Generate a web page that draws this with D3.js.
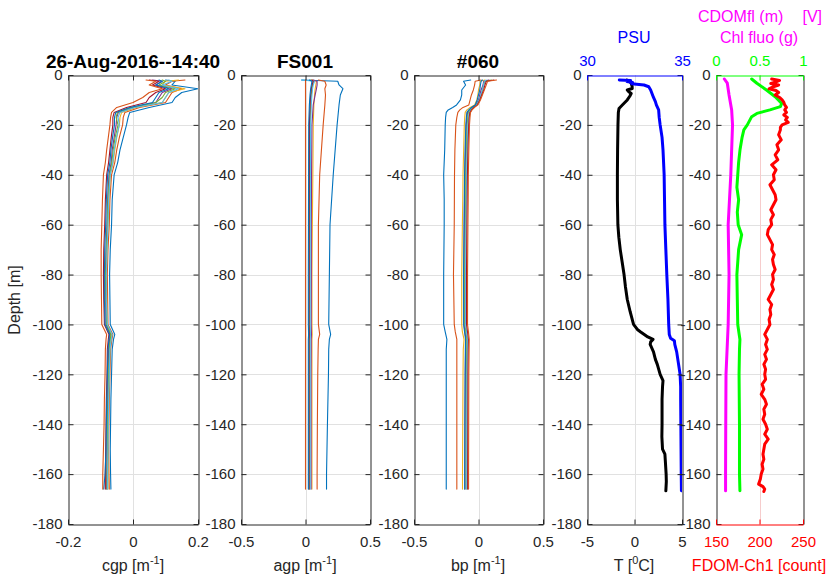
<!DOCTYPE html>
<html>
<head>
<meta charset="utf-8">
<script src="https://cdn.jsdelivr.net/npm/d3@7"></script>
<style>
  body { margin: 0; background: #fff; }
  svg text { font-family: "Liberation Sans", Arial, Helvetica, sans-serif; }
</style>
</head>
<body>
<svg id="chart" width="832" height="586"></svg>
<script>
// ---------- data ----------
const depthTicks = [0, -20, -40, -60, -80, -100, -120, -140, -160, -180];

const lineColors = ["#0072BD", "#D95319", "#EDB120", "#7E2F8E", "#77AC30", "#4DBEEE", "#A2142F", "#0072BD", "#D95319"];

// cgp profiles [1/m]
const cgpDepth = [-2, -2.5, -4, -5.5, -7, -9, -11, -13, -15, -17, -20, -25, -30, -35, -40, -50, -60, -70, -80, -90, -100, -104, -106, -110, -120, -130, -140, -150, -160, -166];
const cgpValues = [
  [0.10, 0.13, 0.12, 0.20, 0.15, 0.13, 0.12, 0.05, -0.01, -0.015, -0.02, -0.03, -0.04, -0.047, -0.058, -0.064, -0.066, -0.070, -0.072, -0.071, -0.070, -0.056, -0.060, -0.064, -0.066, -0.068, -0.069, -0.070, -0.069, -0.068],
  [0.16, 0.12, 0.10, 0.15, 0.12, 0.11, 0.10, 0.02, -0.025, -0.03, -0.032, -0.042, -0.05, -0.056, -0.066, -0.071, -0.073, -0.077, -0.079, -0.078, -0.077, -0.062, -0.065, -0.069, -0.071, -0.073, -0.074, -0.075, -0.074, -0.073],
  [0.14, 0.10, 0.09, 0.16, 0.11, 0.10, 0.09, 0.01, -0.035, -0.04, -0.042, -0.05, -0.056, -0.061, -0.07, -0.074, -0.077, -0.080, -0.082, -0.081, -0.080, -0.066, -0.068, -0.071, -0.073, -0.075, -0.076, -0.077, -0.077, -0.077],
  [0.06, 0.09, 0.07, 0.12, 0.09, 0.08, 0.07, 0.0, -0.045, -0.05, -0.052, -0.058, -0.064, -0.067, -0.074, -0.078, -0.080, -0.083, -0.085, -0.084, -0.083, -0.070, -0.072, -0.075, -0.077, -0.078, -0.079, -0.080, -0.081, -0.081],
  [0.09, 0.10, 0.08, 0.13, 0.10, 0.09, 0.07, -0.005, -0.048, -0.052, -0.046, -0.055, -0.061, -0.065, -0.072, -0.077, -0.079, -0.082, -0.084, -0.083, -0.081, -0.068, -0.070, -0.073, -0.075, -0.077, -0.078, -0.079, -0.080, -0.080],
  [0.11, 0.12, 0.09, 0.14, 0.11, 0.10, 0.09, 0.005, -0.04, -0.046, -0.042, -0.051, -0.058, -0.062, -0.070, -0.075, -0.077, -0.080, -0.082, -0.082, -0.079, -0.064, -0.067, -0.071, -0.073, -0.075, -0.076, -0.077, -0.078, -0.078],
  [0.05, 0.08, 0.06, 0.10, 0.07, 0.05, 0.04, -0.02, -0.058, -0.062, -0.062, -0.067, -0.071, -0.075, -0.081, -0.085, -0.087, -0.090, -0.091, -0.090, -0.088, -0.074, -0.076, -0.079, -0.080, -0.082, -0.083, -0.084, -0.085, -0.085],
  [0.08, 0.09, 0.07, 0.11, 0.08, 0.07, 0.06, -0.01, -0.053, -0.057, -0.057, -0.063, -0.068, -0.071, -0.078, -0.082, -0.084, -0.087, -0.088, -0.088, -0.086, -0.072, -0.074, -0.077, -0.079, -0.081, -0.082, -0.083, -0.086, -0.090],
  [0.04, 0.07, 0.05, 0.09, 0.05, 0.03, 0.0, -0.05, -0.066, -0.069, -0.071, -0.076, -0.081, -0.085, -0.091, -0.094, -0.096, -0.098, -0.098, -0.097, -0.096, -0.081, -0.083, -0.085, -0.086, -0.088, -0.089, -0.091, -0.093, -0.093]
];

// agp profiles [1/m]
const agpDepth = [-2, -2.5, -4, -5.5, -8, -12, -20, -40, -60, -80, -100, -104, -106, -110, -120, -140, -160, -166];
const agpValues = [
  [-0.03, 0.25, 0.26, 0.29, 0.27, 0.26, 0.245, 0.215, 0.19, 0.185, 0.18, 0.195, 0.185, 0.18, 0.178, 0.17, 0.163, 0.163],
  [0.10, 0.15, 0.16, 0.15, 0.155, 0.15, 0.137, 0.11, 0.10, 0.10, 0.10, 0.11, 0.10, 0.098, 0.095, 0.092, 0.09, 0.09],
  [0.05, 0.085, 0.08, 0.075, 0.07, 0.065, 0.06, 0.057, 0.053, 0.05, 0.05, 0.052, 0.05, 0.05, 0.05, 0.05, 0.05, 0.05],
  [0.06, 0.09, 0.09, 0.085, 0.075, 0.06, 0.05, 0.047, 0.045, 0.045, 0.044, 0.046, 0.044, 0.044, 0.043, 0.043, 0.043, 0.043],
  [0.04, 0.06, 0.055, 0.05, 0.045, 0.04, 0.035, 0.033, 0.032, 0.032, 0.031, 0.033, 0.031, 0.031, 0.031, 0.031, 0.031, 0.031],
  [-0.03, 0.07, 0.06, 0.055, 0.05, 0.045, 0.04, 0.038, 0.037, 0.036, 0.036, 0.038, 0.036, 0.036, 0.036, 0.036, 0.036, 0.036],
  [0.05, 0.06, 0.05, 0.045, 0.04, 0.035, 0.03, 0.029, 0.028, 0.028, 0.027, 0.029, 0.027, 0.027, 0.027, 0.027, 0.027, 0.027],
  [0.03, 0.05, 0.045, 0.04, 0.035, 0.03, 0.025, 0.024, 0.023, 0.022, 0.022, 0.024, 0.022, 0.022, 0.022, 0.022, 0.022, 0.022],
  [0.0, 0.0, 0.0, 0.0, 0.0, 0.0, 0.0, 0.0, 0.0, 0.0, 0.0, 0.0, 0.0, 0.0, 0.0, 0.0, 0.0, 0.0]
];

// bp profiles [1/m]
const bpDepth = [-2, -2.5, -4, -6, -8, -10, -12, -13, -14, -15, -17, -20, -30, -40, -50, -60, -80, -100, -103, -106, -110, -120, -140, -160, -166];
const bpValues = [
  [-0.06, -0.116, -0.10, -0.13, -0.13, -0.14, -0.17, -0.20, -0.235, -0.25, -0.255, -0.258, -0.262, -0.27, -0.266, -0.266, -0.27, -0.27, -0.258, -0.245, -0.25, -0.25, -0.25, -0.25, -0.25],
  [0.02, -0.026, -0.03, -0.04, -0.055, -0.065, -0.075, -0.12, -0.145, -0.16, -0.168, -0.176, -0.183, -0.186, -0.187, -0.188, -0.194, -0.188, -0.18, -0.168, -0.168, -0.168, -0.168, -0.168, -0.168],
  [0.05, 0.013, 0.01, 0.0, -0.005, -0.013, -0.03, -0.065, -0.09, -0.103, -0.107, -0.11, -0.115, -0.12, -0.122, -0.125, -0.13, -0.13, -0.125, -0.112, -0.118, -0.12, -0.122, -0.124, -0.124],
  [0.08, 0.04, 0.035, 0.02, 0.01, 0.0, -0.02, -0.05, -0.07, -0.085, -0.09, -0.095, -0.10, -0.105, -0.108, -0.11, -0.113, -0.113, -0.105, -0.098, -0.10, -0.102, -0.104, -0.105, -0.105],
  [0.10, 0.05, 0.04, 0.03, 0.02, 0.005, -0.015, -0.045, -0.065, -0.078, -0.083, -0.088, -0.094, -0.098, -0.10, -0.102, -0.106, -0.106, -0.098, -0.09, -0.092, -0.094, -0.095, -0.096, -0.096],
  [0.06, 0.045, 0.04, 0.03, 0.018, 0.005, -0.015, -0.04, -0.06, -0.072, -0.077, -0.082, -0.088, -0.092, -0.095, -0.097, -0.10, -0.10, -0.092, -0.085, -0.087, -0.089, -0.09, -0.09, -0.09],
  [0.12, 0.06, 0.05, 0.04, 0.025, 0.01, -0.01, -0.035, -0.055, -0.067, -0.072, -0.076, -0.082, -0.086, -0.088, -0.09, -0.093, -0.093, -0.085, -0.078, -0.08, -0.082, -0.083, -0.084, -0.084],
  [0.03, 0.02, 0.015, 0.01, 0.0, -0.01, -0.025, -0.055, -0.075, -0.09, -0.094, -0.098, -0.104, -0.108, -0.11, -0.112, -0.116, -0.115, -0.108, -0.10, -0.102, -0.104, -0.106, -0.107, -0.107],
  [0.14, 0.07, 0.06, 0.045, 0.03, 0.015, -0.005, -0.03, -0.05, -0.062, -0.066, -0.07, -0.075, -0.079, -0.08, -0.082, -0.085, -0.085, -0.078, -0.072, -0.073, -0.075, -0.076, -0.077, -0.077]
];

// temperature [degC] and salinity [PSU]
const tempDepth = [-2, -2.6, -3.3, -4.5, -5.4, -6, -6.7, -7.4, -8.5, -10, -12, -13.4, -15, -20, -30, -40, -50, -60, -65, -70, -75, -80, -85, -90, -95, -100, -102, -103, -105, -106, -107, -108, -111, -114, -116, -118, -120, -122.5, -125, -130, -140, -145, -150, -152, -155, -160, -163, -166.7];
const tempValues = [-0.8, -0.5, -0.35, -0.25, -0.24, -0.76, -0.6, -0.35, -0.5, -0.76, -1.28, -1.63, -1.7, -1.74, -1.78, -1.8, -1.8, -1.75, -1.65, -1.5, -1.3, -1.1, -0.95, -0.76, -0.45, -0.1, 0.3, 0.65, 1.4, 1.95, 1.7, 1.65, 2.0, 2.2, 2.4, 2.55, 2.7, 3.0, 2.95, 2.9, 2.9, 2.88, 2.95, 3.2, 3.25, 3.33, 3.35, 3.3];

const psuDepth = [-2, -2.2, -2.6, -3, -3.5, -4, -4.7, -6, -7.4, -9, -10.7, -12, -14, -17, -20, -25, -30, -40, -50, -60, -70, -80, -90, -100, -104, -105.5, -106.5, -108, -111, -115, -120, -125, -130, -140, -150, -160, -166.7];
const psuValues = [31.7, 32.3, 32.1, 32.4, 32.35, 33.0, 33.25, 33.35, 33.42, 33.5, 33.6, 33.65, 33.77, 33.8, 33.85, 33.95, 34.0, 34.06, 34.08, 34.1, 34.15, 34.2, 34.26, 34.3, 34.33, 34.4, 34.6, 34.62, 34.72, 34.8, 34.9, 34.93, 34.93, 34.94, 34.95, 34.96, 34.97];

// fluorescence [V]
const chlDepth = [-1.6, -3.3, -6, -8.7, -11.4, -12.7, -14, -15.4, -16.7, -20, -22, -25, -30, -35, -40, -45, -50, -55, -60, -64, -70, -80, -90, -100, -106, -110, -120, -140, -160, -166.7];
const chlValues = [0.41, 0.47, 0.58, 0.68, 0.755, 0.74, 0.62, 0.47, 0.41, 0.36, 0.32, 0.30, 0.276, 0.26, 0.25, 0.24, 0.26, 0.245, 0.255, 0.295, 0.26, 0.24, 0.245, 0.25, 0.275, 0.27, 0.265, 0.27, 0.27, 0.275];

const cdomDepth = [-1.6, -3.3, -8, -14, -20, -40, -60, -80, -100, -120, -140, -160, -166.7];
const cdomValues = [0.096, 0.13, 0.15, 0.18, 0.19, 0.17, 0.14, 0.15, 0.14, 0.115, 0.112, 0.11, 0.11];

// FDOM channel 1 [count]
const fdomDepth = [-1.6, -2.2, -2.8, -3.4, -4, -4.8, -5.5, -6.2, -7, -8, -9, -10, -11, -12, -13, -14, -15, -16, -17, -18, -19, -20, -21,
  -22, -24, -26, -28, -30, -32, -34, -36, -38, -40,
  -42, -44, -46, -48, -50, -52, -54, -56, -58, -60,
  -62, -64, -66, -68, -70, -72, -74, -76, -78, -80,
  -82, -84, -86, -88, -90, -92, -94, -96, -98, -100,
  -102, -104, -106, -108, -110, -112, -114, -116, -118, -120,
  -122, -124, -126, -128, -130, -132, -134, -136, -138, -140,
  -142, -144, -146, -148, -150, -152, -154, -156, -158, -160,
  -162, -164, -165, -166, -167];
const fdomValues = [214, 223, 219, 213, 222, 215, 211, 219, 222, 218, 223, 226, 228, 229, 231, 229, 231, 228, 232, 230, 233, 226, 224,
  224, 222, 225, 220, 222, 218, 221, 214, 219, 216,
  217, 212, 215, 218, 219, 216, 213, 216, 213, 214,
  210, 209, 212, 215, 214, 217, 215, 216, 218, 215,
  216, 214, 216, 213, 210, 214, 212, 213, 211, 212,
  209, 206, 209, 207, 209, 206, 208, 205, 207, 206,
  207, 203, 205, 202, 206, 208, 205, 206, 204, 207,
  209, 206, 210, 206, 205, 204, 205, 203, 204, 202,
  201, 199, 204, 206, 205];

// tick values and labels of the horizontal axes
const cgpTicks = [-0.2, 0, 0.2],  cgpTickLabels = ["-0.2", "0", "0.2"];
const agpTicks = [-0.5, 0, 0.5],  agpTickLabels = ["-0.5", "0", "0.5"];
const bpTicks = [-0.5, 0, 0.5],   bpTickLabels = ["-0.5", "0", "0.5"];
const tempTicks = [-5, 0, 5],     tempTickLabels = ["-5", "0", "5"];
const psuTicks = [30, 35],        psuTickLabels = ["30", "35"];
const fdomTicks = [150, 200, 250], fdomTickLabels = ["150", "200", "250"];
const fluoTicks = [0, 0.5, 1],    fluoTickLabels = ["0", "0.5", "1"];

// ---------- drawing ----------
const svg = d3.select("#chart");
const INK = "#262626";
const GRID = "#e1e1e1";
const TOP = 75, BOTTOM = 524;
const y = d3.scaleLinear().domain([-180, 0]).range([BOTTOM, TOP]);

function toPoints(depths, values) { return depths.map((d, i) => [d, values[i]]); }

let clipId = 0;
function drawPanel(p) {
  const xb = d3.scaleLinear().domain(p.bottom.domain).range([p.x0, p.x1]);
  const xt = p.top ? d3.scaleLinear().domain(p.top.domain).range([p.x0, p.x1]) : xb;
  const g = svg.append("g");

  // grid
  g.selectAll("line.hgrid").data(depthTicks.filter(d => d > -180 && d < 0)).join("line")
    .attr("x1", p.x0).attr("x2", p.x1)
    .attr("y1", d => Math.round(y(d)) + 0.5).attr("y2", d => Math.round(y(d)) + 0.5)
    .attr("stroke", GRID).attr("stroke-width", 1);
  g.selectAll("line.vgrid").data(p.gridX).join("line")
    .attr("x1", d => Math.round(xb(d)) + 0.5).attr("x2", d => Math.round(xb(d)) + 0.5)
    .attr("y1", TOP).attr("y2", BOTTOM)
    .attr("stroke", p.gridColor || GRID).attr("stroke-width", 1);

  // data
  const cid = "clip" + (clipId++);
  svg.append("clipPath").attr("id", cid).append("rect")
    .attr("x", p.x0).attr("y", TOP).attr("width", p.x1 - p.x0).attr("height", BOTTOM - TOP);
  const lines = g.append("g").attr("clip-path", `url(#${cid})`);
  p.series.forEach(s => {
    const xs = s.axis === "top" ? xt : xb;
    const line = d3.line().x(d => xs(d[1])).y(d => y(d[0]));
    lines.append("path")
      .attr("d", line(toPoints(s.depth, s.values)))
      .attr("fill", "none").attr("stroke", s.color)
      .attr("stroke-width", s.width).attr("stroke-linejoin", "round").attr("stroke-linecap", "round");
  });

  // axes
  const fontCss = '"Liberation Sans", Arial, Helvetica, sans-serif';
  const styleAxis = (sel, color, size) => {
    sel.attr("color", color).attr("font-size", size).attr("font-family", fontCss);
    sel.select(".domain").attr("stroke-width", 1);
    sel.selectAll(".tick line").attr("stroke-width", 1);
  };
  const left = g.append("g").attr("transform", `translate(${p.x0 + 0.5},0)`)
    .call(d3.axisLeft(y).tickValues(depthTicks).tickFormat(String).tickSizeInner(-5).tickSizeOuter(0).tickPadding(6));
  styleAxis(left, INK, 15);
  left.selectAll(".tick text").attr("fill", INK);

  const right = g.append("g").attr("transform", `translate(${p.x1 + 0.5},0)`)
    .call(d3.axisRight(y).tickValues(depthTicks).tickFormat("").tickSizeInner(-5).tickSizeOuter(0));
  styleAxis(right, INK, 15);

  const bottom = g.append("g").attr("transform", `translate(0,${BOTTOM + 0.5})`)
    .call(d3.axisBottom(xb).tickValues(p.bottom.ticks).tickFormat((d, i) => p.bottom.labels[i])
      .tickSizeInner(-5).tickSizeOuter(0).tickPadding(12));
  styleAxis(bottom, p.bottom.color || INK, 15);

  const topAxis = p.top
    ? d3.axisTop(xt).tickValues(p.top.ticks).tickFormat((d, i) => p.top.labels[i])
    : d3.axisTop(xb).tickValues(p.bottom.ticks).tickFormat("");
  const top = g.append("g").attr("transform", `translate(0,${TOP + 0.5})`)
    .call(topAxis.tickSizeInner(-5).tickSizeOuter(0).tickPadding(10));
  styleAxis(top, p.top ? p.top.color : INK, 15);
}

const multi = (depth, values) => values.map((v, i) => ({ depth, values: v, color: lineColors[i], width: 1.1 }));

drawPanel({ x0: 68, x1: 198, gridX: [0],
  bottom: { domain: [-0.2, 0.2], ticks: cgpTicks, labels: cgpTickLabels },
  series: multi(cgpDepth, cgpValues) });
drawPanel({ x0: 241, x1: 370, gridX: [0],
  bottom: { domain: [-0.5, 0.5], ticks: agpTicks, labels: agpTickLabels },
  series: multi(agpDepth, agpValues) });
drawPanel({ x0: 414, x1: 543, gridX: [0],
  bottom: { domain: [-0.5, 0.5], ticks: bpTicks, labels: bpTickLabels },
  series: multi(bpDepth, bpValues) });
drawPanel({ x0: 587, x1: 682, gridX: [0],
  bottom: { domain: [-5, 5], ticks: tempTicks, labels: tempTickLabels },
  top: { domain: [30, 35], ticks: psuTicks, labels: psuTickLabels, color: "#0000ff" },
  series: [
    { depth: tempDepth, values: tempValues, color: "#000000", width: 3 },
    { depth: psuDepth, values: psuValues, color: "#0000ff", width: 3, axis: "top" }
  ] });
drawPanel({ x0: 716, x1: 803, gridX: [200], gridColor: "#f6cccc",
  bottom: { domain: [150, 250], ticks: fdomTicks, labels: fdomTickLabels, color: "#ff0000" },
  top: { domain: [0, 1], ticks: fluoTicks, labels: fluoTickLabels, color: "#00ff00" },
  series: [
    { depth: cdomDepth, values: cdomValues, color: "#ff00ff", width: 3, axis: "top" },
    { depth: chlDepth, values: chlValues, color: "#00ff00", width: 3, axis: "top" },
    { depth: fdomDepth, values: fdomValues, color: "#ff0000", width: 3 }
  ] });

// ---------- titles and labels ----------
function label(x, yPos, txt, opts = {}) {
  return svg.append("text").attr("x", x).attr("y", yPos)
    .attr("text-anchor", opts.anchor || "middle")
    .attr("font-size", opts.size || 16)
    .attr("font-weight", opts.bold ? "bold" : "normal")
    .attr("fill", opts.color || INK)
    .text(txt);
}
function supLabel(x, yPos, before, sup, after, color) {
  const t = svg.append("text").attr("x", x).attr("y", yPos)
    .attr("text-anchor", "middle").attr("font-size", 16).attr("fill", color || INK);
  t.append("tspan").text(before);
  t.append("tspan").attr("font-size", 11).attr("dy", -7).text(sup);
  t.append("tspan").attr("dy", 7).text(after);
}

label(133, 68, "26-Aug-2016--14:40", { bold: true, size: 19, color: "#000" });
label(305, 68, "FS001", { bold: true, size: 19, color: "#000" });
label(478, 68, "#060", { bold: true, size: 19, color: "#000" });

label(634, 43, "PSU", { color: "#0000ff" });
label(698, 22, "CDOMfl (m)", { color: "#ff00ff", anchor: "start" });
label(822, 22, "[V]", { color: "#ff00ff", anchor: "end" });
label(759, 43, "Chl fluo (g)", { color: "#ff00ff" });

supLabel(133, 571, "cgp [m", "-1", "]");
supLabel(305, 571, "agp [m", "-1", "]");
supLabel(478, 571, "bp [m", "-1", "]");
supLabel(634, 571, "T [", "0", "C]");
label(759, 571, "FDOM-Ch1 [count]", { color: "#ff0000" });

svg.append("text")
  .attr("transform", "translate(20,300) rotate(-90)")
  .attr("text-anchor", "middle").attr("font-size", 16).attr("fill", INK)
  .text("Depth [m]");
</script>
</body>
</html>
